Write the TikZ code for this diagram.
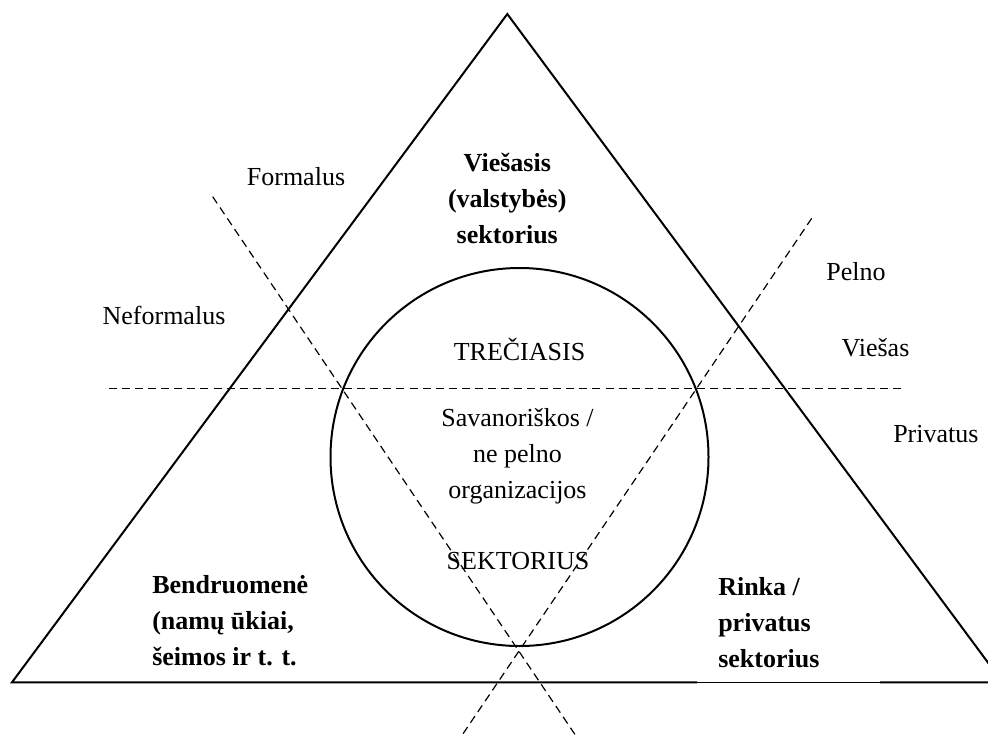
\documentclass[tikz,border=0pt]{standalone}
\usepackage{fontspec}
\setmainfont{Liberation Serif}
\begin{document}
\begin{tikzpicture}[x=0.75pt,y=-0.75pt,
  solidline/.style={line width=1.5pt, line join=miter},
  dashline/.style={line width=0.9pt, dash pattern=on 6pt off 3.8pt},
  lbl/.style={inner sep=0pt, font=\fontsize{19.5}{27}\selectfont},
  blbl/.style={inner sep=0pt, font=\fontsize{19.5}{27}\selectfont\bfseries}]
\clip (0,0) rectangle (988,736);
\fill[white] (0,0) rectangle (988,736);
% triangle corners
\coordinate (apex) at (507.3,14);
\coordinate (bl) at (12,682.3);
\coordinate (br) at (1002.6,682.3);
\coordinate (g1) at (697,682.3);
\coordinate (g2) at (880,682.3);
\draw[solidline] (g1) -- (bl) -- (apex) -- (br) -- (g2);
\draw[line width=0.9pt] (g1) -- (g2);
% circle
\node[draw, circle, line width=1.5pt, minimum size=283.5pt, inner sep=0pt] (circ) at (519.5,457) {};
% dashed lines
\coordinate (h1) at (109,388.3);
\coordinate (h2) at (902,388.3);
\coordinate (d1a) at (212.7,196.7);
\coordinate (d1b) at (576,736);
\coordinate (d2a) at (811.7,218.3);
\coordinate (d2b) at (461.5,736);
\draw[dashline] (h1) -- (h2);
\draw[dashline] (d1a) -- (d1b);
\draw[dashline] (d2a) -- (d2b);
% labels outside
\node[lbl] (formalus) at (296,177) {Formalus};
\node[lbl] (neformalus) at (164,315) {Neformalus};
\node[lbl] (pelno) at (856,272) {Pelno};
\node[lbl] (viesas) at (875.5,348) {Viešas};
\node[lbl, anchor=west] (privatus) at (893,434) {Privatus};
% sector labels
\node[blbl, align=center] (viesasis) at (507.3,198) {Viešasis\\(valstybės)\\sektorius};
\node[lbl] (treciasis) at (519.5,349) {TREČIASIS};
\node[lbl, align=center] (savanor) at (517.5,456) {Savanoriškos /\\ne pelno\\organizacijos};
\node[lbl] (sektorius) at (518,561) {SEKTORIUS};
\node[blbl, align=left, anchor=west] (bendr) at (152,621) {Bendruomenė\\(namų ūkiai,\\šeimos ir t. t.};
\node[blbl, align=left, anchor=west] (rinka) at (718,623) {Rinka /\\privatus\\sektorius};
\end{tikzpicture}
\end{document}
